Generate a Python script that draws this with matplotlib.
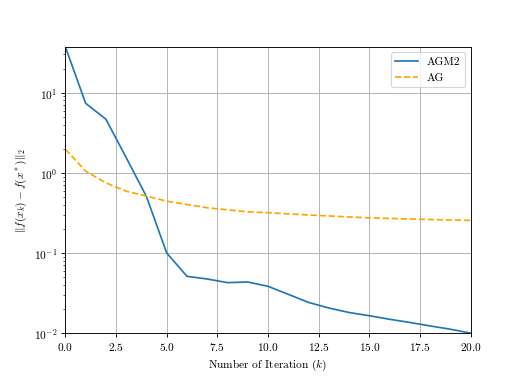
import matplotlib
matplotlib.use("Agg")
import matplotlib.pyplot as plt
import numpy as np

iterations = np.arange(21)
agm2 = [37.4, 7.38, 4.67, 1.55, 0.507, 0.100, 0.0512, 0.0474, 0.0427, 0.0435,
        0.0384, 0.0305, 0.0242, 0.0206, 0.0181, 0.0165, 0.0149, 0.0136,
        0.0123, 0.0112, 0.0100]
ag = [1.98, 1.05, 0.75, 0.59, 0.513, 0.444, 0.403, 0.367, 0.346, 0.327,
      0.318, 0.308, 0.298, 0.290, 0.282, 0.275, 0.270, 0.266, 0.262,
      0.258, 0.255]

plt.rcParams["font.family"] = "serif"
plt.rcParams["font.serif"] = ["cmr10"]
plt.rcParams["mathtext.fontset"] = "cm"
plt.rcParams["axes.formatter.use_mathtext"] = True

fig, ax = plt.subplots(figsize=(6.4, 4.8), dpi=81.72)
fig.subplots_adjust(left=0.125, right=0.9, top=0.88, bottom=0.15)

ax.plot(iterations, agm2, color="#1f77b4", lw=1.5, label="AGM2")
ax.plot(iterations, ag, color="orange", lw=1.5, ls="--", label="AG")
ax.set_yscale("log")
ax.set_xlim(0, 20)
ax.set_ylim(1e-2, agm2[0])
ax.grid(True)
ax.set_xlabel("Number of Iteration ($k$)")
ax.set_ylabel(r"$\|f(x_k) - f(x^*)\|_2$")
ax.legend(loc="upper right")

fig.savefig("out.png", dpi=81.72)
